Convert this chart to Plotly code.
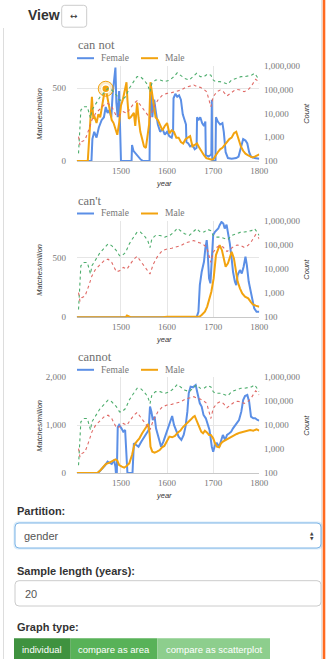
import plotly.graph_objects as go

# ---------------- data ----------------
year_ticks = [1500, 1600, 1700, 1800]
count_ticks = [100, 1000, 10000, 100000, 1000000]
count_tick_labels = ["100", "1,000", "10,000", "100,000", "1,000,000"]

# corpus counts by gender (dashed lines, right log axis)
count_green_years = [1408, 1410, 1413, 1420, 1427, 1432, 1434, 1437, 1445, 1455, 1465, 1472, 1480, 1490,
                     1497, 1502, 1510, 1518, 1525, 1535, 1542, 1550, 1558, 1563, 1567, 1575, 1585, 1595,
                     1606, 1615, 1622, 1630, 1638, 1648, 1656, 1664, 1672, 1680, 1688, 1695, 1700, 1705,
                     1715, 1725, 1732, 1740, 1750, 1760, 1768, 1775, 1783, 1790, 1795, 1800]
count_green = [209, 2000, 13800, 19000, 19000, 8500, 6300, 13800, 26000, 50000, 79000, 112000, 95000, 59000,
               36000, 36000, 50000, 112000, 182000, 347000, 347000, 251000, 155000, 79000, 182000, 251000,
               251000, 214000, 251000, 347000, 500000, 398000, 295000, 251000, 347000, 479000, 347000,
               347000, 447000, 398000, 251000, 214000, 214000, 182000, 170000, 251000, 295000, 347000,
               347000, 372000, 398000, 479000, 347000, 251000]

count_red_years = [1408, 1411, 1415, 1422, 1430, 1437, 1445, 1455, 1465, 1472, 1480, 1490, 1497, 1505, 1513,
                   1520, 1528, 1535, 1542, 1550, 1557, 1563, 1570, 1580, 1590, 1600, 1610, 1620, 1630, 1640,
                   1650, 1658, 1665, 1672, 1680, 1686, 1691, 1695, 1700, 1708, 1715, 1722, 1730, 1737, 1745,
                   1752, 1760, 1767, 1775, 1782, 1788, 1792, 1796, 1800]
count_red = [1050, 470, 650, 760, 2000, 5250, 10000, 16000, 24000, 26000, 19000, 7800, 8500, 11700, 10000,
             16000, 26000, 34000, 22000, 13800, 8500, 6300, 16000, 36000, 59000, 69000, 74000, 81000, 95000,
             123000, 141000, 155000, 132000, 123000, 100000, 81000, 36000, 19000, 50000, 81000, 95000, 81000,
             54000, 69000, 89000, 100000, 95000, 81000, 95000, 132000, 214000, 270000, 234000, 182000]

# "can not"
can_not_female_years = [1404, 1436, 1438, 1442, 1447, 1452, 1458, 1463, 1467, 1471, 1475, 1479, 1482, 1485,
                        1488, 1490, 1493, 1496, 1498, 1500, 1523, 1524, 1527, 1532, 1538, 1543, 1548, 1562,
                        1563, 1565, 1568, 1572, 1576, 1580, 1585, 1590, 1595, 1600, 1605, 1610, 1613, 1614,
                        1618, 1622, 1626, 1630, 1634, 1638, 1641, 1642, 1646, 1650, 1655, 1660, 1664, 1665,
                        1668, 1672, 1676, 1680, 1683, 1684, 1690, 1694, 1696, 1697, 1698, 1705, 1706, 1710,
                        1715, 1720, 1723, 1727, 1732, 1740, 1750, 1755, 1760, 1765, 1770, 1774, 1778, 1782,
                        1790, 1800]
can_not_female = [0, 0, 150, 200, 160, 230, 280, 300, 370, 330, 350, 300, 460, 580,
                  640, 400, 300, 480, 250, 0, 0, 110, 70, 50, 30, 10, 0, 0,
                  380, 500, 300, 420, 330, 250, 200, 220, 180, 200, 170, 160, 200, 430,
                  460, 440, 450, 420, 320, 270, 250, 130, 120, 100, 110, 80, 90, 300,
                  280, 300, 260, 240, 270, 40, 30, 40, 50, 420, 0, 0, 300, 270,
                  250, 260, 200, 60, 20, 15, 20, 30, 100, 150, 140, 120, 60, 30,
                  20, 15]
can_not_male_years = [1404, 1428, 1431, 1434, 1437, 1440, 1443, 1447, 1451, 1455, 1459, 1463, 1467, 1470,
                      1474, 1477, 1480, 1484, 1488, 1492, 1496, 1500, 1504, 1508, 1512, 1514, 1517, 1521,
                      1525, 1528, 1531, 1535, 1538, 1542, 1546, 1550, 1554, 1558, 1561, 1564, 1567, 1571,
                      1575, 1580, 1585, 1590, 1595, 1600, 1605, 1610, 1615, 1620, 1625, 1630, 1635, 1640,
                      1645, 1650, 1655, 1660, 1665, 1670, 1675, 1680, 1685, 1690, 1695, 1700, 1705, 1710,
                      1715, 1720, 1725, 1730, 1735, 1740, 1745, 1750, 1755, 1760, 1765, 1770, 1775, 1780,
                      1785, 1790, 1795, 1800]
can_not_male = [0, 0, 150, 330, 440, 290, 300, 260, 320, 300, 380, 450, 495, 450,
                380, 330, 280, 260, 210, 180, 260, 380, 420, 480, 540, 420, 290, 300,
                320, 330, 240, 400, 300, 200, 150, 100, 90, 200, 250, 540, 480, 400,
                300, 280, 240, 210, 240, 260, 190, 210, 200, 160, 160, 130, 120, 150,
                160, 170, 100, 110, 120, 90, 60, 40, 20, 15, 10, 12, 40, 60,
                80, 90, 110, 130, 150, 160, 190, 200, 150, 100, 70, 50, 40, 30,
                25, 30, 40, 45]

# "can't"
cant_female_years = [1404, 1664, 1668, 1671, 1675, 1680, 1683, 1686, 1688, 1691, 1694, 1697, 1700, 1704,
                     1707, 1711, 1714, 1718, 1722, 1725, 1729, 1732, 1736, 1740, 1743, 1747, 1750, 1753,
                     1758, 1762, 1766, 1770, 1773, 1777, 1781, 1785, 1789, 1794, 1800]
cant_female = [0, 0, 47, 270, 380, 466, 578, 647, 550, 326, 285, 494, 690, 717,
               731, 745, 773, 800, 787, 745, 778, 717, 620, 494, 382, 300, 270, 354,
               396, 368, 424, 508, 438, 300, 215, 159, 75, 47, 47]
cant_male_years = [1404, 1510, 1513, 1518, 1522, 1590, 1600, 1660, 1670, 1675, 1682, 1687, 1691, 1696,
                   1701, 1706, 1710, 1714, 1719, 1723, 1727, 1732, 1736, 1740, 1745, 1749, 1753, 1758,
                   1763, 1769, 1776, 1781, 1786, 1792, 1800]
cant_male = [0, 0, 15, 5, 0, 0, 5, 5, 5, 20, 47, 90, 145, 215,
             326, 522, 563, 605, 563, 494, 424, 452, 508, 550, 494, 396, 300, 243,
             200, 173, 159, 131, 109, 98, 89]

# "cannot"
cannot_female_years = [1404, 1449, 1453, 1460, 1466, 1471, 1476, 1480, 1485, 1488, 1489, 1491, 1493, 1496,
                       1501, 1505, 1509, 1512, 1514, 1525, 1528, 1533, 1538, 1544, 1549, 1554, 1560, 1563,
                       1566, 1569, 1573, 1576, 1582, 1587, 1592, 1597, 1602, 1607, 1611, 1615, 1620, 1625,
                       1631, 1636, 1640, 1644, 1647, 1651, 1656, 1662, 1666, 1671, 1675, 1679, 1684, 1688,
                       1692, 1697, 1700, 1704, 1708, 1713, 1717, 1721, 1726, 1730, 1735, 1739, 1743, 1748,
                       1752, 1756, 1761, 1765, 1769, 1774, 1778, 1782, 1787, 1791, 1796, 1800]
cannot_female = [0, 0, 28, 98, 167, 237, 216, 188, 272, 132, 0, 0, 955, 1004,
                 934, 864, 899, 480, 0, 0, 620, 585, 550, 655, 725, 795, 900, 1387,
                 1282, 1108, 1178, 934, 690, 550, 655, 795, 969, 1108, 1192, 1004, 864, 760,
                 690, 795, 969, 1282, 1666, 1805, 1791, 1840, 1666, 1457, 1387, 1213, 1143, 1039,
                 899, 550, 446, 585, 620, 550, 690, 795, 690, 795, 829, 864, 934, 1004,
                 1039, 1108, 1282, 1526, 1610, 1631, 1492, 1178, 1143, 1143, 1108, 1094]
cannot_male_years = [1404, 1449, 1456, 1462, 1467, 1475, 1482, 1488, 1492, 1496, 1502, 1507, 1512, 1518,
                     1524, 1529, 1534, 1540, 1546, 1551, 1555, 1559, 1562, 1564, 1568, 1573, 1578, 1584,
                     1589, 1594, 1599, 1605, 1611, 1617, 1623, 1629, 1634, 1640, 1646, 1652, 1656, 1660,
                     1665, 1669, 1674, 1678, 1682, 1687, 1691, 1695, 1700, 1704, 1708, 1713, 1717, 1721,
                     1727, 1733, 1739, 1745, 1751, 1758, 1765, 1772, 1780, 1787, 1794, 1800]
cannot_male = [0, 0, 63, 132, 188, 216, 258, 286, 258, 167, 132, 111, 146, 202,
               376, 585, 655, 725, 829, 900, 969, 1025, 829, 550, 446, 425, 446, 480,
               537, 565, 655, 760, 746, 774, 843, 885, 955, 1004, 1073, 1122, 1164, 1192,
               1073, 983, 864, 829, 885, 843, 795, 795, 725, 620, 550, 537, 620, 655,
               690, 718, 760, 795, 815, 843, 857, 878, 900, 885, 913, 885]

# ---------------- layout helpers ----------------
W, H = 328, 659
def px(x):
    return x / W
def py(y):
    return 1 - y / H

BLUE = "#5b8fe6"
ORANGE = "#f2a30f"
GREEN = "#4fae6e"
RED = "#e06a66"
SERIF = "Liberation Serif"
SANS = "Liberation Sans"
TICK_COL = "#777777"
GRID = "#e6e6e6"

PLOT_L, PLOT_R = 76.7, 259.3
charts = [
    dict(title="can not", fy=can_not_female_years, f=can_not_female, my=can_not_male_years, m=can_not_male,
         top=65.7, bottom=161, ymax=653, lt=[0, 500], ltl=["0", "500"]),
    dict(title="can't", fy=cant_female_years, f=cant_female, my=cant_male_years, m=cant_male,
         top=221, bottom=317.3, ymax=808, lt=[0, 500], ltl=["0", "500"]),
    dict(title="cannot", fy=cannot_female_years, f=cannot_female, my=cannot_male_years, m=cannot_male,
         top=377.3, bottom=473, ymax=2000, lt=[0, 1000, 2000], ltl=["0", "1,000", "2,000"]),
]

fig = go.Figure()
shapes = []
annotations = []

for k, c in enumerate(charts):
    xname = "x" if k == 0 else f"x{k + 1}"
    yl = "y" if k == 0 else f"y{2 * k + 1}"
    yr = f"y{2 * k + 2}"
    xkey = "xaxis" if k == 0 else f"xaxis{k + 1}"
    ylkey = "yaxis" if k == 0 else f"yaxis{2 * k + 1}"
    yrkey = f"yaxis{2 * k + 2}"

    fig.add_trace(go.Scatter(x=count_green_years, y=count_green, xaxis=xname, yaxis=yr, mode="lines",
                             line=dict(color=GREEN, width=1.1, dash="3px,3px"), hoverinfo="skip"))
    fig.add_trace(go.Scatter(x=count_red_years, y=count_red, xaxis=xname, yaxis=yr, mode="lines",
                             line=dict(color=RED, width=1.1, dash="3px,3px"), hoverinfo="skip"))
    fig.add_trace(go.Scatter(x=c["fy"], y=c["f"], xaxis=xname, yaxis=yl, mode="lines",
                             line=dict(color=BLUE, width=2), name="Female"))
    fig.add_trace(go.Scatter(x=c["my"], y=c["m"], xaxis=xname, yaxis=yl, mode="lines",
                             line=dict(color=ORANGE, width=2), name="Male"))

    dom_y = [py(c["bottom"]), py(c["top"])]
    fig.layout[xkey] = dict(domain=[px(PLOT_L), px(PLOT_R)], range=[1404, 1800], anchor=yl,
                            tickvals=year_ticks, ticktext=[str(t) for t in year_ticks], automargin=False,
                            showgrid=True, gridcolor=GRID, gridwidth=1, zeroline=False, showline=False,
                            ticks="outside", ticklen=1, tickcolor="rgba(0,0,0,0)",
                            tickfont=dict(family=SERIF, size=9, color=TICK_COL), fixedrange=True)
    fig.layout[ylkey] = dict(domain=dom_y, range=[0, c["ymax"]], anchor=xname, automargin=False,
                             tickvals=c["lt"], ticktext=c["ltl"], showgrid=True, gridcolor=GRID,
                             zeroline=True, zerolinecolor="#c8c8c8", zerolinewidth=1, showline=False,
                             ticks="outside", ticklen=8, tickcolor="rgba(0,0,0,0)",
                             tickfont=dict(family=SERIF, size=9, color=TICK_COL), fixedrange=True)
    fig.layout[yrkey] = dict(domain=dom_y, type="log", range=[2, 6], overlaying=yl, side="right",
                             anchor=xname, tickvals=count_ticks, ticktext=count_tick_labels, automargin=False,
                             showgrid=False, zeroline=False, showline=False,
                             ticks="outside", ticklen=2, tickcolor="rgba(0,0,0,0)",
                             tickfont=dict(family=SERIF, size=9, color=TICK_COL), fixedrange=True)

    annotations.append(dict(x=px(PLOT_L - 1), y=py(c["top"] - 20.5), xref="paper", yref="paper",
                            text=c["title"], showarrow=False, xanchor="left", yanchor="middle",
                            font=dict(family=SERIF, size=12.5, color="#6f6f6f")))
    ly = c["top"] - 7.5
    shapes.append(dict(type="line", xref="paper", yref="paper", x0=px(77), x1=px(94), y0=py(ly), y1=py(ly),
                       line=dict(color=BLUE, width=2)))
    shapes.append(dict(type="line", xref="paper", yref="paper", x0=px(141), x1=px(158), y0=py(ly), y1=py(ly),
                       line=dict(color=ORANGE, width=2)))
    annotations.append(dict(x=px(98.5), y=py(ly), xref="paper", yref="paper", text="Female", showarrow=False,
                            xanchor="left", yanchor="middle", font=dict(family=SERIF, size=9.5, color="#777")))
    annotations.append(dict(x=px(162.5), y=py(ly), xref="paper", yref="paper", text="Male", showarrow=False,
                            xanchor="left", yanchor="middle", font=dict(family=SERIF, size=9.5, color="#777")))
    mid = (c["top"] + c["bottom"]) / 2 + 0.5
    annotations.append(dict(x=px(40), y=py(mid), xref="paper", yref="paper", text="Matches/million",
                            showarrow=False, textangle=-90, xanchor="center", yanchor="middle",
                            font=dict(family=SANS, size=7.5, color="#333", style="italic")))
    annotations.append(dict(x=px(307), y=py(mid), xref="paper", yref="paper", text="Count",
                            showarrow=False, textangle=-90, xanchor="center", yanchor="middle",
                            font=dict(family=SANS, size=7.5, color="#333", style="italic")))
    annotations.append(dict(x=px(164), y=py(c["bottom"] + 22), xref="paper", yref="paper", text="year",
                            showarrow=False, xanchor="center", yanchor="middle",
                            font=dict(family=SANS, size=7.5, color="#333", style="italic")))

hi = can_not_male_years.index(1467)
fig.add_trace(go.Scatter(x=[can_not_male_years[hi]], y=[can_not_male[hi]], xaxis="x", yaxis="y", mode="markers",
                         marker=dict(size=15, color="rgba(242,163,15,0.22)", line=dict(color=ORANGE, width=1)),
                         hoverinfo="skip"))
fig.add_trace(go.Scatter(x=[can_not_male_years[hi]], y=[can_not_male[hi]], xaxis="x", yaxis="y", mode="markers",
                         marker=dict(size=8, color=ORANGE, line=dict(color="white", width=1.5)),
                         hoverinfo="skip"))


def rrect(x0, y0, x1, y1, r, **kw):
    rx, ry = r / W, r / H
    X0, X1, Y0, Y1 = px(x0), px(x1), py(y0), py(y1)
    path = (f"M {X0 + rx},{Y0} L {X1 - rx},{Y0} Q {X1},{Y0} {X1},{Y0 - ry} "
            f"L {X1},{Y1 + ry} Q {X1},{Y1} {X1 - rx},{Y1} L {X0 + rx},{Y1} Q {X0},{Y1} {X0},{Y1 + ry} "
            f"L {X0},{Y0 - ry} Q {X0},{Y0} {X0 + rx},{Y0} Z")
    d = dict(type="path", xref="paper", yref="paper", path=path)
    d.update(kw)
    return d


# ---------------- page chrome ----------------
shapes.append(dict(type="line", xref="paper", yref="paper", x0=px(3.5), x1=px(3.5), y0=py(28), y1=py(659),
                   line=dict(color="#dddddd", width=1)))
shapes.append(dict(type="line", xref="paper", yref="paper", x0=px(321.6), x1=px(321.6), y0=py(0), y1=py(659),
                   line=dict(color="#e2e2e2", width=1.2)))
shapes.append(dict(type="line", xref="paper", yref="paper", x0=px(324), x1=px(324), y0=py(0), y1=py(659),
                   line=dict(color="#ff6a1f", width=2.6)))

annotations.append(dict(x=px(25.5), y=py(15.5), xref="paper", yref="paper", text="<b>View</b>", showarrow=False,
                        xanchor="left", yanchor="middle", font=dict(family=SANS, size=14, color="#333")))
shapes.append(rrect(61.7, 5.3, 86.7, 27.2, 3, line=dict(color="#cccccc", width=1), fillcolor="white"))
annotations.append(dict(x=px(74.2), y=py(16), xref="paper", yref="paper", text="↔", showarrow=False,
                        xanchor="center", yanchor="middle", font=dict(family="DejaVu Sans", size=9, color="#333")))

annotations.append(dict(x=px(14.5), y=py(510.7), xref="paper", yref="paper", text="<b>Partition:</b>",
                        showarrow=False, xanchor="left", yanchor="middle",
                        font=dict(family=SANS, size=11, color="#333")))
shapes.append(rrect(13.5, 521.5, 322.5, 549.5, 5, line=dict(width=0), fillcolor="rgba(102,175,233,0.25)"))
shapes.append(rrect(15, 523, 321, 548, 4, line=dict(color="#7db4e6", width=1), fillcolor="white"))
annotations.append(dict(x=px(21.5), y=py(535.8), xref="paper", yref="paper", text="gender", showarrow=False,
                        xanchor="left", yanchor="middle", font=dict(family=SANS, size=11, color="#555")))
annotations.append(dict(x=px(312), y=py(533.3), xref="paper", yref="paper", text="▲", showarrow=False,
                        xanchor="center", yanchor="middle", font=dict(family="DejaVu Sans", size=4.5, color="#444")))
annotations.append(dict(x=px(312), y=py(538.3), xref="paper", yref="paper", text="▼", showarrow=False,
                        xanchor="center", yanchor="middle", font=dict(family="DejaVu Sans", size=4.5, color="#444")))

annotations.append(dict(x=px(14.5), y=py(570.5), xref="paper", yref="paper", text="<b>Sample length (years):</b>",
                        showarrow=False, xanchor="left", yanchor="middle",
                        font=dict(family=SANS, size=11, color="#333")))
shapes.append(rrect(15, 580.7, 321, 606, 4, line=dict(color="#cccccc", width=1), fillcolor="white"))
annotations.append(dict(x=px(23.5), y=py(593.5), xref="paper", yref="paper", text="20", showarrow=False,
                        xanchor="left", yanchor="middle", font=dict(family=SANS, size=11, color="#555")))

annotations.append(dict(x=px(14.5), y=py(627), xref="paper", yref="paper", text="<b>Graph type:</b>",
                        showarrow=False, xanchor="left", yanchor="middle",
                        font=dict(family=SANS, size=11, color="#333")))
buttons = [("individual", 14, 70.7, "#3f923f"), ("compare as area", 70.7, 157.3, "#58b258"),
           ("compare as scatterplot", 157.3, 270, "#8dce8d")]
for label, x0, x1, col in buttons:
    shapes.append(dict(type="rect", xref="paper", yref="paper", x0=px(x0), x1=px(x1), y0=py(638.3), y1=py(662),
                       line=dict(width=0), fillcolor=col))
    annotations.append(dict(x=px((x0 + x1) / 2), y=py(649), xref="paper", yref="paper", text=label,
                            showarrow=False, xanchor="center", yanchor="middle",
                            font=dict(family=SANS, size=9.5, color="white")))

fig.update_layout(width=W, height=H, autosize=False,
                  margin=dict(l=0, r=0, t=0, b=0, pad=0, autoexpand=False),
                  paper_bgcolor="white", plot_bgcolor="white", showlegend=False,
                  shapes=shapes, annotations=annotations, hovermode=False)

fig.write_html("out.html", config={"displayModeBar": False, "staticPlot": True})
